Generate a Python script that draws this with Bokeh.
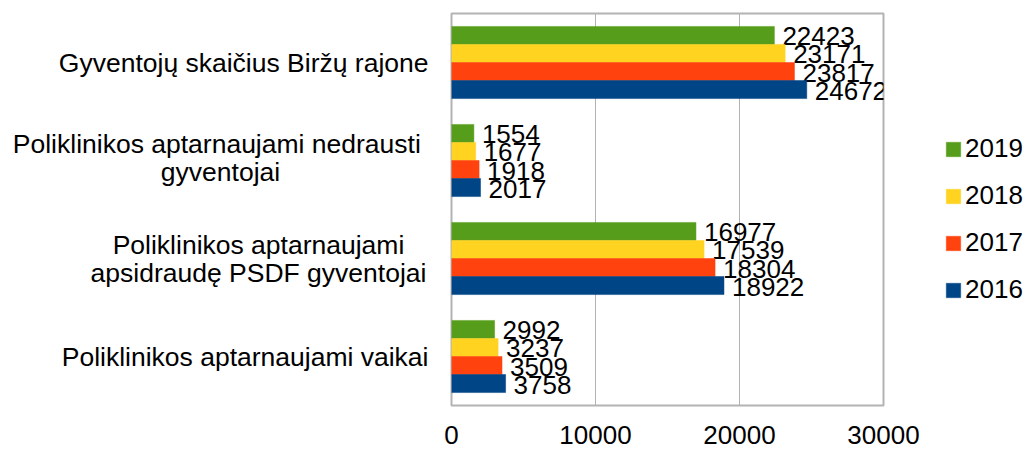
from bokeh.plotting import figure
from bokeh.models import FactorRange, Range1d, ColumnDataSource, Legend, LegendItem, FixedTicker
from bokeh.transform import dodge
from bokeh.layouts import row
from bokeh.embed import file_html
from bokeh.resources import INLINE
from bokeh.core.properties import value

categories = [
    "Gyventojų skaičius Biržų rajone",
    "Poliklinikos aptarnaujami  nedrausti gyventojai",
    "Poliklinikos aptarnaujami apsidraudę PSDF gyventojai",
    "Poliklinikos aptarnaujami vaikai",
]
category_lines = [
    ["Gyventojų skaičius Biržų rajone"],
    ["Poliklinikos aptarnaujami  nedrausti", "gyventojai"],
    ["Poliklinikos aptarnaujami", "apsidraudę PSDF gyventojai"],
    ["Poliklinikos aptarnaujami vaikai"],
]
years = ["2019", "2018", "2017", "2016"]
v2019 = [22423, 1554, 16977, 2992]
v2018 = [23171, 1677, 17539, 3237]
v2017 = [23817, 1918, 18304, 3509]
v2016 = [24672, 2017, 18922, 3758]
x_ticks = [0, 10000, 20000, 30000]

colors = ["#579d1c", "#ffd320", "#ff420e", "#004586"]
offsets = [0.276, 0.092, -0.092, -0.276]
series = [v2019, v2018, v2017, v2016]

FONT = "Liberation Sans"
FS = "26px"
CAT_FS = "26.5px"

data = {"cat": categories}
for y, vals in zip(years, series):
    data["v" + y] = vals
    data["t" + y] = [str(v) for v in vals]
src = ColumnDataSource(data)

factors = list(reversed(categories))
yr = FactorRange(factors=factors, range_padding=0)

# ---- main chart ----
p = figure(
    frame_width=432, frame_height=392,
    y_range=yr, x_range=Range1d(0, 30000),
    output_backend="svg", toolbar_location=None,
    min_border_left=11, min_border_right=143, min_border_top=13, min_border_bottom=0,
)

items = []
for y, col, off in zip(years, colors, offsets):
    r = p.hbar(y=dodge("cat", off, range=yr), right="v" + y, left=0,
               height=0.184, source=src, fill_color=col, line_color=col, line_width=0.5)
    p.text(x="v" + y, y=dodge("cat", off, range=yr), text="t" + y, source=src,
           x_offset=8, y_offset=1, text_align="left", text_baseline="middle",
           text_font=value(FONT), text_font_size=FS, text_color="black")
    items.append(LegendItem(label=y, renderers=[r]))

legend = Legend(items=items, location=(61, 100), orientation="vertical",
                glyph_width=18, glyph_height=18, label_height=30, spacing=16,
                label_standoff=3, padding=0, margin=0,
                label_text_font=FONT, label_text_font_size=FS, label_text_color="black",
                border_line_color=None, background_fill_alpha=0)
p.add_layout(legend, "right")

p.outline_line_color = "#b3b3b3"
p.outline_line_width = 2
p.ygrid.visible = False
p.yaxis.visible = False
p.xgrid.ticker = FixedTicker(ticks=[10000, 20000])
p.xgrid.grid_line_color = "#b3b3b3"
p.xgrid.grid_line_width = 1

xa = p.xaxis[0]
xa.ticker = FixedTicker(ticks=x_ticks)
xa.axis_line_color = None
xa.major_tick_line_color = None
xa.minor_tick_line_color = None
xa.major_label_standoff = 14
xa.major_label_text_font = FONT
xa.major_label_text_font_size = FS
xa.major_label_text_color = "black"

# ---- category label panel (shares the categorical y range) ----
lab = figure(
    frame_width=440, frame_height=392,
    y_range=yr, x_range=Range1d(0, 440),
    output_backend="svg", toolbar_location=None,
    min_border_left=0, min_border_right=0, min_border_top=13, min_border_bottom=0,
)
lab.axis.visible = False
lab.grid.visible = False
lab.outline_line_color = None

# layout of the label lines (pixel positions inside the label panel)
right_edge = 428
two_line_center = {1: 220, 2: 258}
two_line_shift = {1: -3, 2: 0}
for i, (cat, lines) in enumerate(zip(categories, category_lines)):
    if len(lines) == 1:
        lab.text(x=[right_edge], y=[cat], text=[lines[0]], text_align="right",
                 text_baseline="middle", text_font=value(FONT), text_font_size=CAT_FS,
                 text_color="black")
    else:
        for k, line in enumerate(lines):
            lab.text(x=[two_line_center[i]], y=[cat], text=[line], text_align="center",
                     y_offset=-14 + 28 * k + two_line_shift[i],
                     text_baseline="middle", text_font=value(FONT), text_font_size=CAT_FS,
                     text_color="black")

layout = row(lab, p, spacing=0)
open("out.html", "w").write(file_html(layout, INLINE))
